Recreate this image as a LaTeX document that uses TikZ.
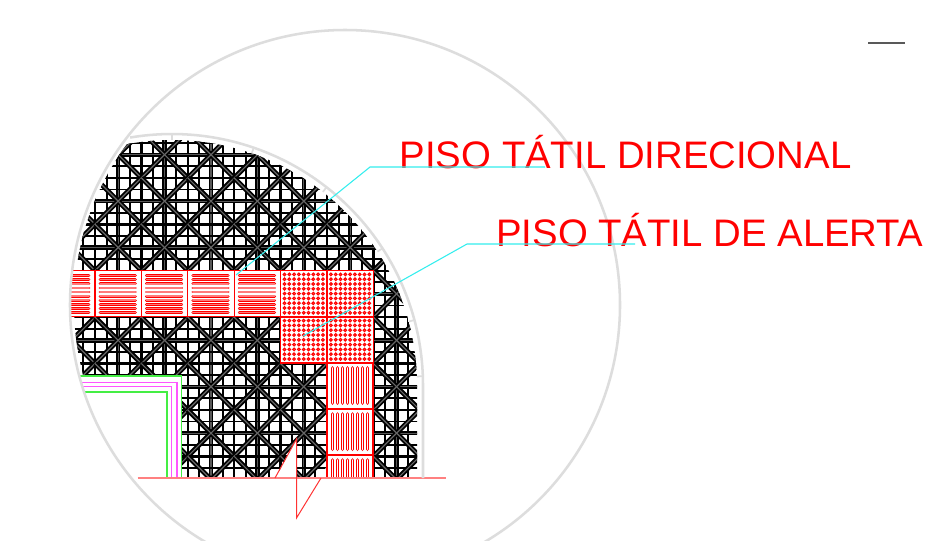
\documentclass[tikz,border=0pt]{standalone}
\usepackage{fontspec}
\setmainfont{Liberation Sans}
\definecolor{ringgray}{HTML}{DDDDDD}
\definecolor{leadercyan}{HTML}{33EEEE}
\definecolor{salmon}{HTML}{FF8080}
\definecolor{lime}{HTML}{44EE44}
\definecolor{mag}{HTML}{FF55FF}
\definecolor{barcore}{HTML}{FF7A7A}
\definecolor{dotcore}{HTML}{FF9A9A}
\tikzset{
  ring/.style={draw=ringgray,line width=1.9pt},
  gridthin/.style={black,line width=1.4pt},
  gridmid/.style={black,line width=1.8pt},
  gridthick/.style={black,line width=3.3pt},
  gridcore/.style={black!65,line width=.8pt},
  diagouter/.style={black,line width=3.6pt},
  diagcore/.style={black!60,line width=.9pt},
  tileedge/.style={draw=red,line width=1pt,fill=white},
  barouter/.style={red,line width=2.1pt,line cap=round},
  barcoreh/.style={barcore,line width=1.1pt,line cap=round},
  barouterv/.style={red,line width=2.7pt,line cap=round},
  barcorev/.style={white,line width=.9pt,line cap=round},
  dot/.style={draw=red,fill=dotcore,line width=.8pt},
  leader/.style={leadercyan,line width=.8pt},
  label/.style={red,font=\fontsize{28.75pt}{32pt}\selectfont,inner sep=0pt,anchor=base west},
  breakline/.style={red!80!white,line width=.75pt},
  baseline/.style={salmon,line width=1.4pt}
}
\begin{document}
\begin{tikzpicture}[x=.75pt,y=-.75pt]
\useasboundingbox (0,0) rectangle (941,540);
\fill[white] (0,0) rectangle (941,540);
\def\T{46.4}
% black tile field
\begin{scope}
  \clip plot[domain=180:0,samples=120] ({172+245*cos(\x)},{385-245*sin(\x)}) -- (417,478) -- (-73,478) -- cycle;
  \clip (345,305) circle[radius=271];
  \foreach \k in {-4,...,32}{
    \pgfmathsetmacro\px{95+11.6*\k}
    \pgfmathtruncatemacro\m{mod(\k+40,4)}
    \ifnum\m=2 \def\sty{gridthick}\else\ifnum\m=0 \def\sty{gridmid}\else\def\sty{gridthin}\fi\fi
    \draw[\sty] (\px,120) -- (\px,490);
    \ifnum\m=2 \draw[gridcore] (\px,120) -- (\px,490);\fi
  }
  \foreach \k in {-14,...,20}{
    \pgfmathsetmacro\py{270.7+11.6*\k}
    \pgfmathtruncatemacro\m{mod(\k+40,4)}
    \ifnum\m=2 \def\sty{gridthick}\else\ifnum\m=0 \def\sty{gridmid}\else\def\sty{gridthin}\fi\fi
    \draw[\sty] (40,\py) -- (440,\py);
    \ifnum\m=2 \draw[gridcore] (40,\py) -- (440,\py);\fi
  }
  \foreach \i in {-1,...,7}{\foreach \j in {-3,...,4}{
    \pgfmathsetmacro\ax{95+\T*\i}
    \pgfmathsetmacro\ay{270.7+\T*\j}
    \pgfmathsetmacro\bx{\ax+\T}
    \pgfmathsetmacro\by{\ay+\T}
    \draw[diagouter] (\ax,\ay) -- (\bx,\by);
    \draw[diagouter] (\bx,\ay) -- (\ax,\by);
    \draw[diagcore] (\ax,\ay) -- (\bx,\by);
    \draw[diagcore] (\bx,\ay) -- (\ax,\by);
  }}
\end{scope}
% knock-outs
\fill[white] (60,376) rectangle (181.7,500);
\fill[white] (275,479) -- (296.5,439) -- (296.5,479) -- cycle;
\fill[white] (319,479) -- (327,466) -- (327,479) -- cycle;
% room outline
\begin{scope}
  \clip (345,305) circle[radius=275];
  \draw[lime,line width=1.1pt] (60,376) -- (181.7,376) -- (181.7,478);
  \draw[mag,line width=.9pt] (60,382.7) -- (177,382.7) -- (177,478);
  \draw[mag,line width=.9pt] (60,386.7) -- (171.7,386.7) -- (171.7,478);
  \draw[lime,line width=1.1pt] (60,392) -- (167,392) -- (167,478);
\end{scope}
% directional tiles, horizontal band
\begin{scope}
  \clip (345,305) circle[radius=275];
  \foreach \i in {-1,...,3}{
    \pgfmathsetmacro\ax{95+\T*\i}
    \pgfmathsetmacro\bx{\ax+\T}
    \pgfmathsetmacro\lx{\ax+5}
    \pgfmathsetmacro\rx{\bx-6}
    \draw[tileedge] (\ax,270.7) rectangle (\bx,316.7);
    \foreach \n in {0,...,9}{
      \pgfmathsetmacro\py{275.6+4.1*\n}
      \draw[barouter] (\lx,\py) -- (\rx,\py);
      \draw[barcoreh] (\lx,\py) -- (\rx,\py);
    }
  }
\end{scope}
% alert tiles
\foreach \ax/\ay in {280.6/270.7,327/270.7,280.6/316.9,327/316.9}{
  \pgfmathsetmacro\bx{\ax+46.2}
  \pgfmathsetmacro\by{\ay+46}
  \draw[tileedge] (\ax,\ay) rectangle (\bx,\by);
  \foreach \a in {0,...,8}{\foreach \b in {0,...,8}{
    \pgfmathsetmacro\px{\ax+3.9+4.8*\a}
    \pgfmathsetmacro\py{\ay+3.7+4.8*\b}
    \draw[dot] (\px,\py) circle[radius=1.35];
  }}
}
% directional tiles, vertical run
\begin{scope}
  \clip (320,300) rectangle (380,478);
  \foreach \ay in {362.9,409,455}{
    \pgfmathsetmacro\by{\ay+46.2}
    \pgfmathsetmacro\ty{\ay+5}
    \pgfmathsetmacro\uy{\by-6}
    \draw[tileedge] (327,\ay) rectangle (372.9,\by);
    \foreach \n in {0,...,7}{
      \pgfmathsetmacro\px{332.4+5*\n}
      \draw[barouterv] (\px,\ty) -- (\px,\uy);
      \draw[barcorev] (\px,\ty) -- (\px,\uy);
    }
  }
\end{scope}
% ground line and break mark
\draw[baseline] (137.5,478.4) -- (446,478.4);
\coordinate (brkA) at (275,478);
\coordinate (brkB) at (296.5,439);
\coordinate (brkC) at (296.5,518);
\coordinate (brkD) at (321,478);
\draw[breakline] (brkA) -- (brkB) -- (brkC) -- (brkD);
% rings
\draw[ring] (345,305) circle[radius=275];
\draw[ring] plot[domain=99.6:0,samples=90] ({172+251*cos(\x)},{385-251*sin(\x)}) -- (423,478);
\foreach \ang in {90,71,52,33,15,2}{
  \draw[ringgray,line width=1.3pt] ({172+245*cos(\ang)},{385-245*sin(\ang)}) -- ({172+251*cos(\ang)},{385-251*sin(\ang)});
}
% top right dash
\coordinate (dashA) at (868,43);
\coordinate (dashB) at (905,43);
\draw[black!65,line width=.9pt] (dashA) -- (dashB);
% labels and leaders
\node[label] (dirlabel) at (399.5,168.5) {PISO TÁTIL DIRECIONAL};
\node[label] (alertlabel) at (496,246) {PISO TÁTIL DE ALERTA};
\coordinate (dirstart) at (236,275);
\coordinate (direlbow) at (370,167);
\coordinate (dirend) at (545,167);
\coordinate (alstart) at (303,336);
\coordinate (alelbow) at (467,244);
\coordinate (alend) at (635,244);
\draw[leader] (dirstart) -- (direlbow) -- (dirend);
\draw[leader] (alstart) -- (alelbow) -- (alend);
\end{tikzpicture}
\end{document}
